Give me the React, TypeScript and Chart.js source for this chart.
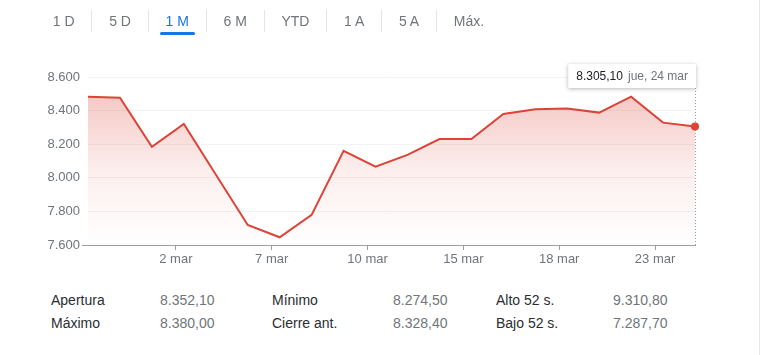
import React, { useEffect, useRef } from 'react';
import { Chart, registerables } from 'chart.js';

Chart.register(...registerables);

// ---------- data ----------
const tradingDays = [
  '25 feb', '28 feb', '1 mar', '2 mar', '3 mar', '4 mar', '7 mar', '8 mar', '9 mar', '10 mar',
  '11 mar', '14 mar', '15 mar', '16 mar', '17 mar', '18 mar', '21 mar', '22 mar', '23 mar', '24 mar',
];
const closes = [
  8483, 8477, 8185, 8320, 8020, 7719, 7646, 7779, 8161, 8066,
  8136, 8231, 8231, 8380, 8408, 8412, 8388, 8483, 8328.4, 8305.1,
];
const lastWeekday = 'jue';
const yMin = 7600;
const yMax = 8600;
const yStep = 200;
const xTickDays = ['2 mar', '7 mar', '10 mar', '15 mar', '18 mar', '23 mar'];
const ranges = ['1 D', '5 D', '1 M', '6 M', 'YTD', '1 A', '5 A', 'Máx.'];
const activeRange = '1 M';
const statLabels = [
  ['Apertura', 'Máximo'],
  ['Mínimo', 'Cierre ant.'],
  ['Alto 52 s.', 'Bajo 52 s.'],
];
const statValues = [
  ['8.352,10', '8.380,00'],
  ['8.274,50', '8.328,40'],
  ['9.310,80', '7.287,70'],
];

// ---------- helpers ----------
const FONT = '"Liberation Sans", Arial, sans-serif';
const RED = '#db4437';
const GREY = '#70757a';

function fmt(v: number, dec: number): string {
  const s = v.toFixed(dec);
  const [i, d] = s.split('.');
  const ig = i.replace(/\B(?=(\d{3})+(?!\d))/g, '.');
  return d ? ig + ',' + d : ig;
}

const TICK_SHIFT = 0.25;

const markerPlugin = {
  id: 'lastMarker',
  beforeDatasetsDraw(chart: any) {
    const { ctx, chartArea, scales } = chart;
    const i = closes.length - 1;
    const x = Math.round(scales.x.getPixelForValue(i)) + 0.5;
    ctx.save();
    ctx.strokeStyle = '#9aa0a6';
    ctx.lineWidth = 1;
    ctx.setLineDash([1, 2]);
    ctx.beginPath();
    ctx.moveTo(x, chartArea.top + 11);
    ctx.lineTo(x, chartArea.bottom);
    ctx.stroke();
    ctx.restore();
  },
  afterDatasetsDraw(chart: any) {
    const { ctx, chartArea, scales } = chart;
    const i = closes.length - 1;
    const x = scales.x.getPixelForValue(i);
    const t1 = fmt(closes[i], 2);
    const t2 = `${lastWeekday}, ${tradingDays[i]}`;
    ctx.save();
    ctx.font = `12px ${FONT}`;
    const w1 = ctx.measureText(t1).width;
    const w2 = ctx.measureText(t2).width;
    const w = 8 + w1 + 5 + w2 + 8;
    const h = 24;
    const right = x + 1;
    const left = right - w;
    const top = chartArea.top - 13;
    ctx.shadowColor = 'rgba(0,0,0,0.28)';
    ctx.shadowBlur = 4;
    ctx.shadowOffsetY = 1;
    ctx.fillStyle = '#ffffff';
    ctx.fillRect(left, top, w, h);
    ctx.shadowColor = 'transparent';
    ctx.textBaseline = 'middle';
    ctx.fillStyle = '#202124';
    ctx.fillText(t1, left + 8, top + h / 2 + 1);
    ctx.fillStyle = GREY;
    ctx.fillText(t2, left + 8 + w1 + 5, top + h / 2 + 1);
    ctx.restore();
  },
};

function PriceChart() {
  const ref = useRef<HTMLCanvasElement | null>(null);
  useEffect(() => {
    if (!ref.current) return;
    const last = closes.length - 1;
    const chart = new Chart(ref.current, {
      type: 'line',
      data: {
        datasets: [
          {
            data: closes.map((v, i) => ({ x: i, y: v })),
            borderColor: RED,
            borderWidth: 2,
            tension: 0,
            clip: false,
            fill: 'start',
            backgroundColor: (c: any) => {
              const area = c.chart.chartArea;
              if (!area) return 'rgba(219,68,55,0.2)';
              const g = c.chart.ctx.createLinearGradient(0, area.top, 0, area.bottom);
              g.addColorStop(0, 'rgba(219,68,55,0.34)');
              g.addColorStop(0.55, 'rgba(219,68,55,0.09)');
              g.addColorStop(1, 'rgba(219,68,55,0)');
              return g;
            },
            pointRadius: (c: any) => (c.dataIndex === last ? 4 : 0),
            pointHoverRadius: 0,
            pointBackgroundColor: RED,
            pointBorderWidth: 0,
          } as any,
        ],
      },
      options: {
        responsive: false,
        animation: false,
        devicePixelRatio: 1,
        events: [],
        layout: { padding: { top: 77, right: 66, left: 0, bottom: 0 } },
        plugins: { legend: { display: false }, tooltip: { enabled: false } },
        scales: {
          x: {
            type: 'linear',
            min: 0,
            max: closes.length - 1,
            afterFit: (s: any) => {
              s.height = 35;
            },
            afterBuildTicks: (s: any) => {
              s.ticks = xTickDays.map((d) => ({ value: tradingDays.indexOf(d) - TICK_SHIFT }));
            },
            border: { color: '#9aa0a6', width: 1 },
            grid: {
              drawOnChartArea: false,
              drawTicks: true,
              tickLength: 5,
              color: '#9aa0a6',
            },
            ticks: {
              autoSkip: false,
              maxRotation: 0,
              padding: 2,
              color: GREY,
              font: { family: FONT, size: 13 },
              callback: (v: any) => tradingDays[Math.round(Number(v) + TICK_SHIFT)],
            },
          },
          y: {
            min: yMin,
            max: yMax,
            afterFit: (s: any) => {
              s.width = 88;
            },
            border: { display: false },
            grid: {
              drawTicks: true,
              tickLength: 6,
              color: (c: any) => (c.tick && c.tick.value === yMin ? 'rgba(0,0,0,0)' : '#f1f3f4'),
              tickColor: (c: any) => (c.tick && c.tick.value === yMin ? '#9aa0a6' : 'rgba(0,0,0,0)'),
            },
            ticks: {
              stepSize: yStep,
              padding: 2,
              color: GREY,
              font: { family: FONT, size: 13 },
              callback: (v: any) => fmt(Number(v), 0),
            },
          },
        },
      } as any,
      plugins: [markerPlugin],
    });
    return () => chart.destroy();
  }, []);
  return (
    <canvas
      ref={ref}
      width={761}
      height={280}
      style={{ position: 'absolute', left: 0, top: 0, width: 761, height: 280 }}
    />
  );
}

function Tabs() {
  return (
    <div
      style={{
        position: 'absolute',
        left: 36,
        top: 10,
        display: 'flex',
        fontFamily: FONT,
        fontSize: 14,
      }}
    >
      {ranges.map((r, i) => (
        <div
          key={r}
          style={{
            position: 'relative',
            padding: '0 16.8px',
            height: 22,
            lineHeight: '22px',
            borderLeft: i === 0 ? 'none' : '1px solid #e3e5e8',
            color: r === activeRange ? '#1a73e8' : GREY,
            whiteSpace: 'nowrap',
          }}
        >
          {r}
          {r === activeRange && (
            <div
              style={{
                position: 'absolute',
                left: 11,
                right: 11,
                top: 22,
                height: 3,
                background: '#1a73e8',
                borderRadius: 2,
              }}
            />
          )}
        </div>
      ))}
    </div>
  );
}

function Stats() {
  const colLeft = [51, 272, 496];
  const valLeft = [160, 393, 613];
  const rowTop = [290, 313];
  return (
    <div style={{ fontFamily: FONT, fontSize: 14, lineHeight: '20px' }}>
      {statLabels.map((col, c) =>
        col.map((lab, r) => (
          <React.Fragment key={lab}>
            <div style={{ position: 'absolute', left: colLeft[c], top: rowTop[r], color: '#2b2d30', whiteSpace: 'nowrap' }}>
              {lab}
            </div>
            <div style={{ position: 'absolute', left: valLeft[c], top: rowTop[r], color: GREY, whiteSpace: 'nowrap' }}>
              {statValues[c][r]}
            </div>
          </React.Fragment>
        ))
      )}
    </div>
  );
}

export default function App() {
  return (
    <div
      style={{
        position: 'absolute',
        left: 0,
        top: 0,
        width: 761,
        height: 355,
        overflow: 'hidden',
        background: '#ffffff',
      }}
    >
      <PriceChart />
      <Tabs />
      <Stats />
      <div style={{ position: 'absolute', left: 759, top: 0, width: 1, height: 355, background: '#e6e6e6' }} />
    </div>
  );
}
